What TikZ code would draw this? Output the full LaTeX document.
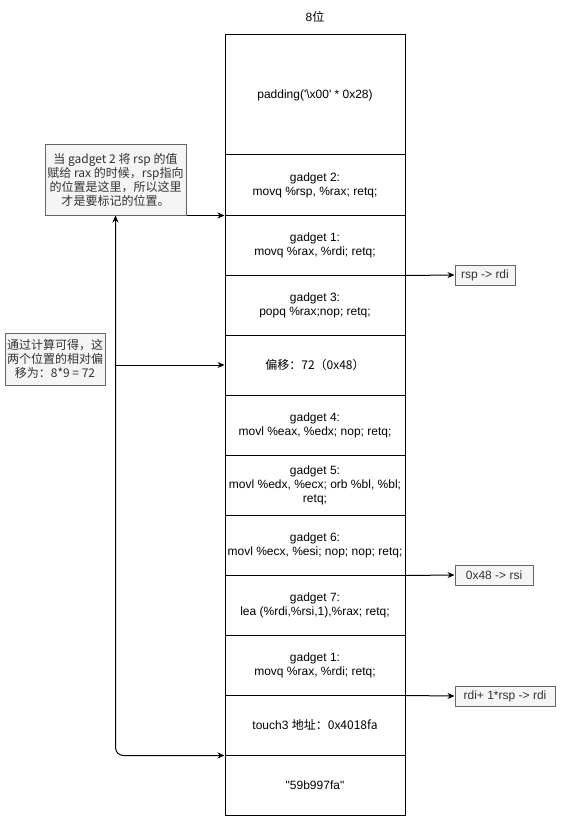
\documentclass[tikz,border=0pt]{standalone}
\usepackage{fontspec}
\setmainfont{Liberation Sans}
\newfontfamily\cjk{Noto Sans CJK SC}
\usetikzlibrary{arrows.meta}
\definecolor{notefill}{HTML}{F5F5F5}
\definecolor{noteline}{HTML}{666666}
\definecolor{notetext}{HTML}{333333}
\begin{document}
\begin{tikzpicture}[x=1pt,y=-1pt,
  every node/.style={font=\fontsize{12}{14}\selectfont, inner sep=1pt},
  cell/.style={draw=black, line width=1pt, minimum width=180pt, minimum height=60pt, align=center},
  note/.style={draw=noteline, fill=notefill, text=notetext, line width=1pt, align=center},
  conn/.style={line width=1pt, -{Stealth[length=7pt,width=6pt]}}]
\useasboundingbox (0,0) rectangle (562,821);

\node (title) at (315,17) {8\cjk{位}};

% stack of 8-byte slots
\node[cell, minimum height=120pt] (pad) at (315,95) {padding(\textquotesingle\textbackslash x00\textquotesingle\ * 0x28)};
\node[cell] (g2)  at (315,185) {gadget 2:\\movq \%rsp, \%rax; retq;};
\node[cell] (g1)  at (315,245) {gadget 1:\\movq \%rax, \%rdi; retq;};
\node[cell] (g3)  at (315,305) {gadget 3:\\popq \%rax;nop; retq;};
\node[cell] (off) at (315,365) {\cjk{偏移：}72\cjk{（}0x48\cjk{）}};
\node[cell] (g4)  at (315,425) {gadget 4:\\movl \%eax, \%edx; nop; retq;};
\node[cell] (g5)  at (315,485) {gadget 5:\\movl \%edx, \%ecx; orb \%bl, \%bl;\\retq;};
\node[cell] (g6)  at (315,545) {gadget 6:\\movl \%ecx, \%esi; nop; nop; retq;};
\node[cell] (g7)  at (315,605) {gadget 7:\\lea (\%rdi,\%rsi,1),\%rax; retq;};
\node[cell] (g1b) at (315,665) {gadget 1:\\movq \%rax, \%rdi; retq;};
\node[cell] (t3)  at (315,725) {touch3 \cjk{地址：}0x4018fa};
\node[cell] (str) at (315,785) {\textquotedbl 59b997fa\textquotedbl};

% side notes
\node[note, minimum width=141pt, minimum height=70pt] (n1) at (115.5,180)
  {\cjk{当} gadget 2 \cjk{将} rsp \cjk{的值}\\\cjk{赋给} rax \cjk{的时候，}rsp\cjk{指向}\\\cjk{的位置是这里，所以这里}\\\cjk{才是要标记的位置。}};
\node[note, minimum width=100pt, minimum height=52pt] (n2) at (55,359)
  {\cjk{通过计算可得，这}\\\cjk{两个位置的相对偏}\\\cjk{移为：}8*9 = 72};

\node[note, minimum width=60pt, minimum height=20pt] (r1) at (485,275) {rsp -> rdi};
\node[note, minimum width=78pt, minimum height=20pt] (r2) at (494,575) {0x48 -> rsi};
\node[note, minimum width=100pt, minimum height=20pt] (r3) at (505,696) {rdi+ 1*rsp -> rdi};

% connectors
\draw[conn] (n1.south east) -- (g2.south west);
\draw[conn, {Stealth[length=7pt,width=6pt]}-{Stealth[length=7pt,width=6pt]}, rounded corners=8pt]
  (n1.south) |- (t3.south west);
\coordinate (tap) at (n1.south |- off.west);
\draw[conn] (tap) -- (off.west);
\draw[conn] (g1.south east) -- (r1.west);
\draw[conn] (g6.south east) -- (r2.west);
\draw[conn] (g1b.south east) -- (r3.west);
\end{tikzpicture}
\end{document}
